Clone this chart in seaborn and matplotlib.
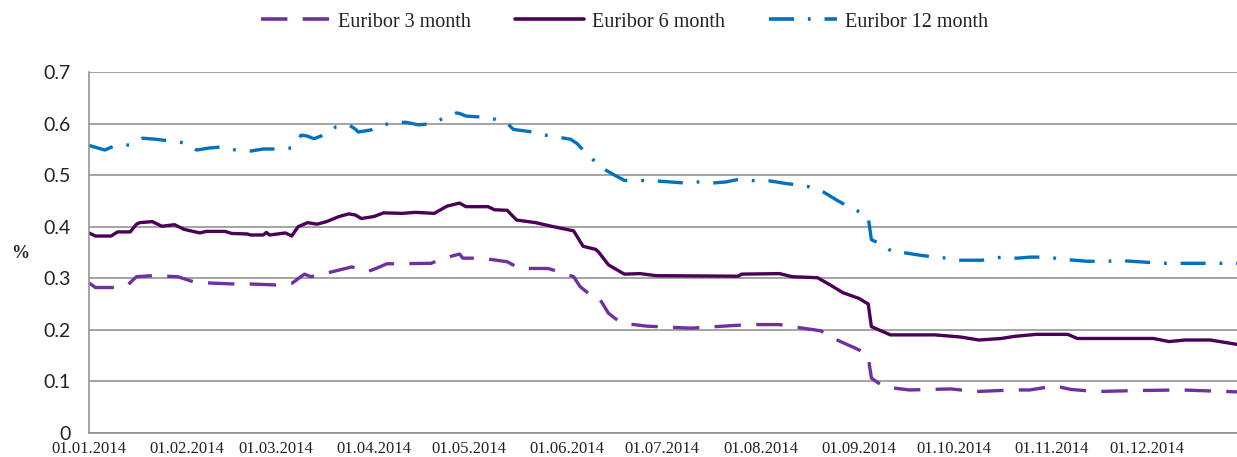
import matplotlib
matplotlib.use("Agg")
import matplotlib.pyplot as plt
import matplotlib.dates as mdates
from matplotlib.lines import Line2D
import seaborn as sns
import pandas as pd

# ---- data ----
dates_3m = ["2014-01-01", "2014-01-03", "2014-01-09", "2014-01-13", "2014-01-16", "2014-01-21",
            "2014-01-29", "2014-02-03", "2014-02-07", "2014-02-15", "2014-02-20", "2014-03-01",
            "2014-03-06", "2014-03-10", "2014-03-12", "2014-03-17", "2014-03-25", "2014-03-30",
            "2014-04-02", "2014-04-05", "2014-04-19", "2014-04-23", "2014-04-28", "2014-04-29",
            "2014-05-05", "2014-05-13", "2014-05-17", "2014-05-26", "2014-05-30", "2014-06-03",
            "2014-06-05", "2014-06-09", "2014-06-11", "2014-06-14", "2014-06-18", "2014-06-26",
            "2014-07-10", "2014-07-23", "2014-07-29", "2014-08-07", "2014-08-11", "2014-08-20",
            "2014-08-23", "2014-08-31", "2014-09-03", "2014-09-04", "2014-09-05", "2014-09-09",
            "2014-09-17", "2014-09-30", "2014-10-08", "2014-10-20", "2014-10-25", "2014-11-02",
            "2014-11-04", "2014-11-07", "2014-11-15", "2014-11-29", "2014-12-12", "2014-12-26",
            "2014-12-31"]
vals_3m = [0.291, 0.282, 0.282, 0.286, 0.303, 0.305,
           0.303, 0.293, 0.291, 0.289, 0.289, 0.287,
           0.290, 0.308, 0.303, 0.310, 0.322, 0.313,
           0.320, 0.328, 0.329, 0.339, 0.347, 0.339,
           0.339, 0.332, 0.319, 0.319, 0.311, 0.303,
           0.284, 0.264, 0.262, 0.232, 0.213, 0.207,
           0.203, 0.208, 0.210, 0.210, 0.206, 0.198,
           0.186, 0.164, 0.155, 0.147, 0.106, 0.089,
           0.083, 0.085, 0.080, 0.083, 0.083, 0.091,
           0.088, 0.084, 0.080, 0.082, 0.083, 0.080,
           0.079]

dates_6m = ["2014-01-01", "2014-01-03", "2014-01-08", "2014-01-10", "2014-01-14", "2014-01-16",
            "2014-01-17", "2014-01-21", "2014-01-24", "2014-01-28", "2014-01-31", "2014-02-05",
            "2014-02-07", "2014-02-13", "2014-02-15", "2014-02-20", "2014-02-21", "2014-02-25",
            "2014-02-26", "2014-02-27", "2014-03-04", "2014-03-06", "2014-03-08", "2014-03-11",
            "2014-03-14", "2014-03-17", "2014-03-21", "2014-03-24", "2014-03-26", "2014-03-28",
            "2014-03-31", "2014-04-01", "2014-04-04", "2014-04-10", "2014-04-14", "2014-04-20",
            "2014-04-24", "2014-04-28", "2014-04-30", "2014-05-07", "2014-05-09", "2014-05-13",
            "2014-05-16", "2014-05-22", "2014-05-27", "2014-06-03", "2014-06-06", "2014-06-10",
            "2014-06-11", "2014-06-14", "2014-06-19", "2014-06-24", "2014-06-29", "2014-07-25",
            "2014-07-26", "2014-08-07", "2014-08-11", "2014-08-19", "2014-08-23", "2014-08-27",
            "2014-09-01", "2014-09-04", "2014-09-05", "2014-09-11", "2014-09-25", "2014-10-03",
            "2014-10-09", "2014-10-16", "2014-10-20", "2014-10-27", "2014-11-06", "2014-11-09",
            "2014-12-03", "2014-12-08", "2014-12-13", "2014-12-21", "2014-12-26", "2014-12-31"]
vals_6m = [0.388, 0.382, 0.382, 0.390, 0.390, 0.405,
           0.408, 0.410, 0.401, 0.404, 0.395, 0.388,
           0.391, 0.391, 0.387, 0.386, 0.384, 0.384,
           0.389, 0.384, 0.388, 0.382, 0.400, 0.408,
           0.405, 0.410, 0.420, 0.425, 0.423, 0.416,
           0.419, 0.420, 0.427, 0.426, 0.428, 0.426,
           0.440, 0.446, 0.439, 0.439, 0.433, 0.432,
           0.413, 0.408, 0.401, 0.392, 0.362, 0.356,
           0.350, 0.326, 0.308, 0.309, 0.305, 0.304,
           0.308, 0.309, 0.303, 0.301, 0.287, 0.272,
           0.261, 0.250, 0.206, 0.190, 0.190, 0.186,
           0.180, 0.183, 0.187, 0.191, 0.191, 0.183,
           0.183, 0.177, 0.180, 0.180, 0.175, 0.170]

dates_12m = ["2014-01-01", "2014-01-06", "2014-01-09", "2014-01-14", "2014-01-18", "2014-01-22",
             "2014-01-26", "2014-01-31", "2014-02-04", "2014-02-08", "2014-02-12", "2014-02-17",
             "2014-02-21", "2014-02-25", "2014-03-01", "2014-03-06", "2014-03-09", "2014-03-11",
             "2014-03-13", "2014-03-16", "2014-03-20", "2014-03-24", "2014-03-26", "2014-03-27",
             "2014-03-31", "2014-04-02", "2014-04-06", "2014-04-11", "2014-04-15", "2014-04-19",
             "2014-04-23", "2014-04-27", "2014-04-28", "2014-04-30", "2014-05-05", "2014-05-09",
             "2014-05-13", "2014-05-15", "2014-05-20", "2014-05-25", "2014-05-29", "2014-06-02",
             "2014-06-04", "2014-06-06", "2014-06-09", "2014-06-12", "2014-06-16", "2014-06-19",
             "2014-06-24", "2014-06-29", "2014-07-08", "2014-07-12", "2014-07-17", "2014-07-21",
             "2014-07-25", "2014-07-31", "2014-08-04", "2014-08-09", "2014-08-13", "2014-08-17",
             "2014-08-21", "2014-08-25", "2014-08-29", "2014-09-02", "2014-09-04", "2014-09-05",
             "2014-09-08", "2014-09-12", "2014-09-16", "2014-09-20", "2014-09-25", "2014-09-29",
             "2014-10-03", "2014-10-10", "2014-10-16", "2014-10-21", "2014-10-25", "2014-10-31",
             "2014-11-04", "2014-11-08", "2014-11-12", "2014-11-19", "2014-11-21", "2014-11-26",
             "2014-12-01", "2014-12-05", "2014-12-10", "2014-12-19", "2014-12-31"]
vals_12m = [0.558, 0.549, 0.557, 0.559, 0.572, 0.570,
            0.567, 0.563, 0.549, 0.553, 0.555, 0.548,
            0.547, 0.551, 0.551, 0.553, 0.578, 0.576,
            0.571, 0.578, 0.594, 0.598, 0.590, 0.584,
            0.588, 0.594, 0.601, 0.603, 0.598, 0.600,
            0.611, 0.621, 0.620, 0.615, 0.613, 0.609,
            0.601, 0.589, 0.585, 0.578, 0.574, 0.570,
            0.562, 0.549, 0.531, 0.514, 0.500, 0.490,
            0.490, 0.489, 0.485, 0.487, 0.485, 0.487,
            0.492, 0.489, 0.489, 0.484, 0.481, 0.477,
            0.467, 0.452, 0.438, 0.427, 0.418, 0.375,
            0.366, 0.350, 0.349, 0.345, 0.341, 0.339,
            0.335, 0.335, 0.341, 0.339, 0.341, 0.341,
            0.337, 0.335, 0.333, 0.333, 0.335, 0.333,
            0.331, 0.329, 0.329, 0.329, 0.329]

series_names = ["Euribor 3 month", "Euribor 6 month", "Euribor 12 month"]
y_ticks = [0, 0.1, 0.2, 0.3, 0.4, 0.5, 0.6, 0.7]
x_tick_dates = ["2014-01-01", "2014-02-01", "2014-03-01", "2014-04-01", "2014-05-01", "2014-06-01",
                "2014-07-01", "2014-08-01", "2014-09-01", "2014-10-01", "2014-11-01", "2014-12-01"]

# ---- style ----
sns.set_style("white")
plt.rcParams["font.family"] = ["Liberation Serif", "DejaVu Serif"]
plt.rcParams["lines.scale_dashes"] = False

colors = ["#7030A0", "#4B0058", "#0070C0"]
styles = [(0, (19, 11)), "-", (0, (18, 10, 2, 10))]

W, H = 1237, 457
fig = plt.figure(figsize=(W / 100, H / 100), dpi=100)
left_px, right_px, top_px, bot_px = 89, 1242, 72.3, 432.7
ax = fig.add_axes([left_px / W, 1 - bot_px / H, (right_px - left_px) / W, (bot_px - top_px) / H])

grid_c = "#8C8C8C"
ax.set_ylim(0, 0.7)
ax.set_xlim(pd.Timestamp("2014-01-01"), pd.Timestamp("2014-12-31"))
ax.set_yticks(y_ticks)
ax.yaxis.grid(True, color=grid_c, lw=1.1)
ax.set_axisbelow(True)

all_dates = [dates_3m, dates_6m, dates_12m]
all_vals = [vals_3m, vals_6m, vals_12m]
for name, d, v, c, ls in zip(series_names, all_dates, all_vals, colors, styles):
    df = pd.DataFrame({"date": pd.to_datetime(d), "value": v})
    sns.lineplot(data=df, x="date", y="value", ax=ax, color=c, linestyle=ls, lw=2.4,
                 legend=False, solid_capstyle="round", dash_capstyle="butt")

ax.set_xlabel("")
ax.set_ylabel("")

for s in ["top", "right"]:
    ax.spines[s].set_visible(False)
for s in ["left", "bottom"]:
    ax.spines[s].set_color(grid_c)
    ax.spines[s].set_linewidth(1.1)

ax.set_xticks(pd.to_datetime(x_tick_dates))
ax.xaxis.set_major_formatter(mdates.DateFormatter("%d.%m.%Y"))
ax.tick_params(axis="x", which="major", direction="out", length=3, width=1.1, color=grid_c,
               labelsize=12, pad=3, labelcolor="#222222")
ax.tick_params(axis="y", which="major", direction="out", length=6, width=1.1, color=grid_c,
               labelsize=14, pad=7, labelcolor="#222222")
for lbl in ax.get_yticklabels():
    lbl.set_fontfamily(["Lato", "DejaVu Sans"])
ax.yaxis.set_major_formatter(matplotlib.ticker.FuncFormatter(lambda v, p: f"{v:g}"))

fig.text(20 / W, 1 - 253 / H, "%", fontsize=13, fontweight="bold", ha="center", va="center",
         color="#222222")

handles = [Line2D([0], [0], color=c, linestyle=ls, lw=2.6, dash_capstyle="butt")
           for c, ls in zip(colors, styles)]
fig.legend(handles, series_names, loc="center", bbox_to_anchor=(625 / W, 1 - 22 / H),
           ncol=3, frameon=False, fontsize=14.5, handlelength=3.4, handletextpad=0.4,
           columnspacing=2.2, borderpad=0, labelcolor="#222222")

fig.savefig("out.png", dpi=100)
